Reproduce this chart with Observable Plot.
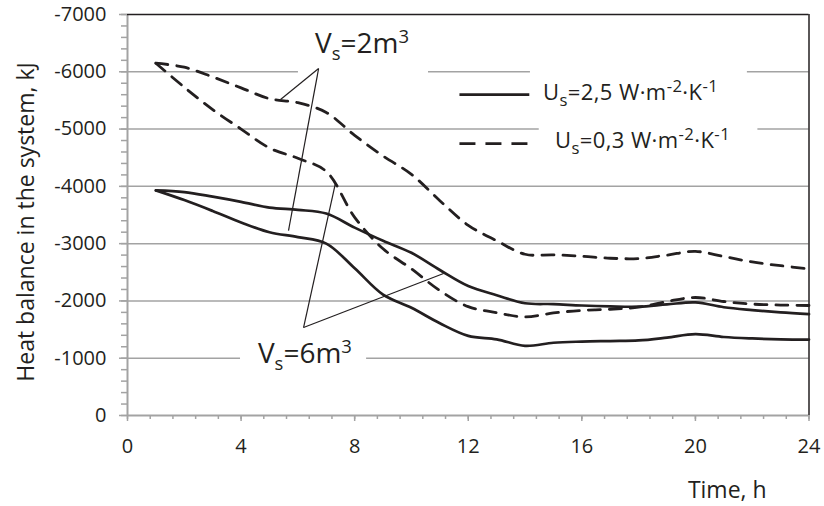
<!DOCTYPE html>
<html><head><meta charset="utf-8">
<script src="https://cdn.jsdelivr.net/npm/d3@7"></script>
<script src="https://cdn.jsdelivr.net/npm/@observablehq/plot@0.6"></script>
<style>body{margin:0;background:#fff}#chart{width:824px;height:506px}</style>
</head><body><div id="chart"></div>
<script>
// ---- data ----
const hours = [1,2,3,4,5,6,7,8,9,10,11,12,13,14,15,16,17,18,19,20,21,22,23,24];
// dashed, Us=0,3 ; Vs=2 m3 (upper dashed)
const u03_v2 = [-6150,-6080,-5910,-5720,-5530,-5460,-5290,-4890,-4530,-4210,-3750,-3320,-3050,-2815,-2805,-2780,-2745,-2740,-2800,-2865,-2775,-2680,-2615,-2560];
// dashed, Us=0,3 ; Vs=6 m3 (lower dashed)
const u03_v6 = [-6150,-5730,-5340,-5000,-4670,-4490,-4260,-3460,-2910,-2560,-2180,-1900,-1795,-1720,-1790,-1835,-1855,-1890,-1990,-2060,-1990,-1945,-1928,-1920];
// solid, Us=2,5 ; Vs=6 m3 (upper solid)
const u25_v6 = [-3930,-3900,-3820,-3730,-3630,-3590,-3525,-3280,-3050,-2840,-2540,-2260,-2100,-1960,-1945,-1920,-1905,-1900,-1940,-1975,-1890,-1840,-1800,-1770];
// solid, Us=2,5 ; Vs=2 m3 (lower solid)
const u25_v2 = [-3930,-3760,-3570,-3370,-3200,-3115,-3000,-2570,-2110,-1880,-1610,-1390,-1330,-1215,-1270,-1290,-1300,-1310,-1360,-1420,-1370,-1345,-1330,-1325];

const yTicks = [-7000,-6000,-5000,-4000,-3000,-2000,-1000,0];
const xTicks = [0,4,8,12,16,20,24];
const gridValues = [-6000,-5000,-4000,-3000,-2000,-1000];
const yTitle = "Heat balance in the system, kJ";
const xTitle = "Time, h";
const legendItems = [
  {dash: null, parts: [["U",""],["s","sub"],["=2,5 W·m",""],["-2","sup"],["·K",""],["-1","sup"]]},
  {dash: "16,10", parts: [["U",""],["s","sub"],["=0,3 W·m",""],["-2","sup"],["·K",""],["-1","sup"]]}
];
// annotation leader lines (data coordinates)
const leaders = [
  {x1:6.73, y1:-6056, x2:5.39, y2:-5515},
  {x1:6.73, y1:-6056, x2:5.67, y2:-3229},
  {x1:6.20, y1:-1536, x2:7.32, y2:-4049},
  {x1:6.20, y1:-1536, x2:11.13, y2:-2478}
];
const annotationLabels = [
  {x:6.62, y:-6317, vol:"2"},
  {x:4.61, y:-907, vol:"6"}
];
// white label backgrounds (hide gridlines behind text)
const labelBoxes = [
  {x1:6.02, x2:10.6, y1:-6753, y2:-5916},
  {x1:3.98, x2:8.42, y1:-1361, y2:-646},
  {x1:14.19, x2:21.83, y1:-6090, y2:-5183},
  {x1:14.5, x2:22.2, y1:-5113, y2:-4275}
];
// legend placement (data coordinates)
const legendLine = {x1:11.69, x2:14.15, y:[-5601,-4746]};
const legendText = [{x:14.65, y:-5497},{x:15.07, y:-4659}];

const rows = (name, vals) => hours.map((h,i) => ({series:name, hour:h, value:vals[i]}));
const dashedRows = [...rows("u03_v2",u03_v2), ...rows("u03_v6",u03_v6)];
const solidRows = [...rows("u25_v6",u25_v6), ...rows("u25_v2",u25_v2)];
const legendRows = legendLine.y.map((y,i) => ({y, x1: legendLine.x1, x2: legendLine.x2, dash: legendItems[i].dash}));

const ink = "#231f20", gray = "#a3a3a3";
const minorY = d3.range(-7000, 1, 200);
const minorX = d3.range(0, 24.001, 0.8);

const plot = Plot.plot({
  width: 824, height: 506,
  marginLeft: 127, marginRight: 15.5, marginTop: 14, marginBottom: 91,
  x: {domain: [0, 24]},
  y: {domain: [0, -7000]},
  style: {fontFamily: "'Open Sans', sans-serif", fontSize: "20px", color: ink, background: "#fff", overflow: "visible"},
  marks: [
    Plot.ruleY(gridValues, {stroke: gray, strokeWidth: 1.5}),
    Plot.rect(labelBoxes, {x1:"x1", x2:"x2", y1:"y1", y2:"y2", fill:"#fff"}),
    Plot.axisY(minorY, {tickSize: 6, tickFormat: () => "", label: null, stroke: gray, strokeWidth: 1.5}),
    Plot.axisY(yTicks, {tickSize: 8, tickPadding: 13, tickFormat: d => String(d), label: null, stroke: gray, strokeWidth: 1.5, fill: ink, fontSize: 20}),
    Plot.axisX(minorX, {tickSize: 4, tickFormat: () => "", label: null, stroke: gray, strokeWidth: 1.5}),
    Plot.axisX(xTicks, {tickSize: 6, tickPadding: 17, tickFormat: d => String(d), label: null, stroke: gray, strokeWidth: 1.5, fill: ink, fontSize: 20}),
    Plot.ruleX([0], {stroke: gray, strokeWidth: 2}),
    Plot.ruleY([0], {stroke: gray, strokeWidth: 2}),
    Plot.ruleY([-7000], {stroke: ink, strokeWidth: 1.5}),
    Plot.ruleX([24], {stroke: ink, strokeWidth: 1.5}),
    Plot.line(solidRows, {x:"hour", y:"value", z:"series", curve:"catmull-rom", stroke: ink, strokeWidth: 2.7}),
    Plot.line(dashedRows, {x:"hour", y:"value", z:"series", curve:"catmull-rom", stroke: ink, strokeWidth: 2.8, strokeDasharray: "12,9"}),
    Plot.link(leaders, {x1:"x1", y1:"y1", x2:"x2", y2:"y2", stroke: ink, strokeWidth: 1.2}),
    Plot.link(legendRows.filter(d => !d.dash), {x1:"x1", x2:"x2", y1:"y", y2:"y", stroke: ink, strokeWidth: 2.8}),
    Plot.link(legendRows.filter(d => d.dash), {x1:"x1", x2:"x2", y1:"y", y2:"y", stroke: ink, strokeWidth: 2.8, strokeDasharray: legendItems[1].dash}),
    Plot.text([yTitle], {frameAnchor: "left", text: d => d, rotate: -90, textAnchor: "middle", dx: -101, dy: 7, fontSize: 23, fill: ink}),
    Plot.text([xTitle], {frameAnchor: "bottom", text: d => d, textAnchor: "middle", dx: 259, dy: 82, fontSize: 23, fill: ink})
  ]
});
document.getElementById("chart").appendChild(plot);

// rich text (subscripts / superscripts) positioned through the plot's scales
const sx = plot.scale("x"), sy = plot.scale("y");
const svg = d3.select(plot);
function rich(x, y, parts, size, subScale, spacing) {
  const t = svg.append("text").attr("x", x).attr("y", y).attr("font-size", size).attr("fill", ink)
    .attr("text-anchor", "start").attr("font-family", "'Open Sans', sans-serif")
    .attr("letter-spacing", spacing || 0);
  let shift = 0;
  for (const [s, kind] of parts) {
    const target = kind === "sub" ? 0.25 * size : kind === "sup" ? -0.36 * size : 0;
    const ts = t.append("tspan").text(s).attr("dy", target - shift);
    if (kind) ts.attr("font-size", size * subScale);
    shift = target;
  }
}
annotationLabels.forEach(a => rich(sx.apply(a.x), sy.apply(a.y), [["V",""],["s","sub"],["=" + a.vol + "m",""],["3","sup"]], 28, 0.66, 0));
legendItems.forEach((it, i) => rich(sx.apply(legendText[i].x), sy.apply(legendText[i].y), it.parts, 22, 0.76, 0.4));
</script></body></html>
